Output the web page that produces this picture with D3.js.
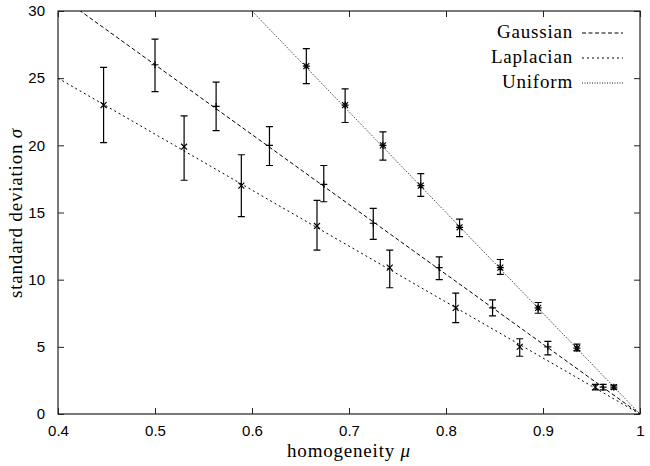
<!DOCTYPE html>
<html>
<head>
<meta charset="utf-8">
<script src="https://cdn.jsdelivr.net/npm/d3@7"></script>
<style>
  body { margin: 0; background: #fff; }
  .tick text { font-family: "Liberation Sans", Arial, sans-serif; font-size: 15px; fill: #000; }
  .lbl { font-family: "Liberation Serif", "Times New Roman", serif; font-size: 19px; letter-spacing: 0.8px; fill: #000; }
</style>
</head>
<body>
<script>
// values
var xTicks = [0.4, 0.5, 0.6, 0.7, 0.8, 0.9, 1];
var yTicks = [0, 5, 10, 15, 20, 25, 30];

var gaussMu    = [0.500, 0.563, 0.618, 0.674, 0.725, 0.793, 0.848, 0.905, 0.962];
var gaussSigma = [26.0, 22.9, 20.0, 17.1, 14.2, 10.9, 7.9, 5.0, 2.0];
var gaussLo    = [24.0, 21.1, 18.5, 15.8, 13.0, 10.0, 7.3, 4.4, 1.8];
var gaussHi    = [27.9, 24.7, 21.4, 18.5, 15.3, 11.7, 8.5, 5.4, 2.2];

var lapMu    = [0.447, 0.530, 0.589, 0.667, 0.742, 0.810, 0.876, 0.954];
var lapSigma = [23.0, 19.9, 17.0, 14.0, 10.9, 7.9, 5.0, 2.0];
var lapLo    = [20.2, 17.4, 14.7, 12.2, 9.4, 6.8, 4.3, 1.8];
var lapHi    = [25.8, 22.2, 19.3, 15.9, 12.2, 9.0, 5.6, 2.2];

var uniMu    = [0.656, 0.696, 0.735, 0.774, 0.814, 0.856, 0.895, 0.935, 0.973];
var uniSigma = [25.9, 23.0, 20.0, 17.0, 13.9, 10.9, 7.9, 4.9, 2.0];
var uniLo    = [24.6, 21.7, 18.9, 16.2, 13.2, 10.4, 7.5, 4.7, 1.85];
var uniHi    = [27.2, 24.2, 21.0, 17.9, 14.5, 11.5, 8.3, 5.2, 2.15];

// fitted lines, two end points each
var gaussFitMu = [0.4, 1], gaussFitSigma = [31.2, 0];
var lapFitMu   = [0.4, 1], lapFitSigma   = [25.0, 0];
var uniFitMu   = [0.6, 1], uniFitSigma   = [30.0, 0];

var seriesNames = ["Gaussian", "Laplacian", "Uniform"];

var width = 650, height = 466;
var margin = {left: 58, right: 10, top: 11, bottom: 52};

var svg = d3.select("body").append("svg")
  .attr("width", width)
  .attr("height", height);

var x = d3.scaleLinear().domain([0.4, 1]).range([margin.left, width - margin.right]);
var y = d3.scaleLinear().domain([0, 30]).range([height - margin.bottom, margin.top]);

svg.append("clipPath").attr("id", "clip")
  .append("rect")
  .attr("x", x(0.4)).attr("y", y(30))
  .attr("width", x(1) - x(0.4)).attr("height", y(0) - y(30));

// axes: ticks point inward, mirrored on top and right
var tl = 6;
svg.append("g").attr("transform", "translate(0," + y(0) + ")")
  .call(d3.axisBottom(x).tickValues(xTicks).tickSizeInner(-tl).tickSizeOuter(0).tickPadding(11)
    .tickFormat(function(d) { return d === 1 ? "1" : d3.format(".1f")(d); }));
svg.append("g").attr("transform", "translate(0," + y(30) + ")")
  .call(d3.axisTop(x).tickValues(xTicks).tickSizeInner(-tl).tickSizeOuter(0).tickFormat(""));
svg.append("g").attr("transform", "translate(" + x(0.4) + ",0)")
  .call(d3.axisLeft(y).tickValues(yTicks).tickSizeInner(-tl).tickSizeOuter(0).tickPadding(13));
svg.append("g").attr("transform", "translate(" + x(1) + ",0)")
  .call(d3.axisRight(y).tickValues(yTicks).tickSizeInner(-tl).tickSizeOuter(0).tickFormat(""));
svg.selectAll(".domain").remove();
svg.selectAll(".tick line").attr("stroke", "#222");

svg.append("rect")
  .attr("x", x(0.4)).attr("y", y(30))
  .attr("width", x(1) - x(0.4)).attr("height", y(0) - y(30))
  .attr("fill", "none").attr("stroke", "#222").attr("stroke-width", 1.2);

// axis labels
var xl = svg.append("text").attr("class", "lbl")
  .attr("x", 349).attr("y", 457).attr("text-anchor", "middle");
xl.append("tspan").text("homogeneity ");
xl.append("tspan").attr("font-style", "italic").text("\u03bc");

var yl = svg.append("text").attr("class", "lbl")
  .attr("transform", "translate(22,213)rotate(-90)").attr("text-anchor", "middle");
yl.append("tspan").text("standard deviation ");
yl.append("tspan").attr("font-style", "italic").text("\u03c3");

// fitted lines
var dashes = ["4,2.5", "2,3", "1,1.5"];
var fits = [[gaussFitMu, gaussFitSigma], [lapFitMu, lapFitSigma], [uniFitMu, uniFitSigma]];
var line = d3.line().x(function(d) { return x(d[0]); }).y(function(d) { return y(d[1]); });
var plot = svg.append("g").attr("clip-path", "url(#clip)");
fits.forEach(function(f, i) {
  plot.append("path")
    .datum(d3.zip(f[0], f[1]))
    .attr("d", line)
    .attr("fill", "none")
    .attr("stroke", "#000")
    .attr("stroke-width", i === 2 ? 0.9 : 1)
    .attr("stroke-dasharray", dashes[i]);
});

// error bars and point markers
var series = [
  {mu: gaussMu, s: gaussSigma, lo: gaussLo, hi: gaussHi, mark: "plus"},
  {mu: lapMu, s: lapSigma, lo: lapLo, hi: lapHi, mark: "cross"},
  {mu: uniMu, s: uniSigma, lo: uniLo, hi: uniHi, mark: "star"}
];
var cap = 3.5, m = 3.5;
series.forEach(function(se) {
  var pts = se.mu.map(function(d, i) { return {mu: d, s: se.s[i], lo: se.lo[i], hi: se.hi[i]}; });
  var g = svg.selectAll(null).data(pts).enter().append("g")
    .attr("stroke", "#000").attr("stroke-width", 1.2).attr("fill", "none");
  g.append("path").attr("d", function(d) {
    var cx = x(d.mu), a = y(d.hi), b = y(d.lo);
    return "M" + cx + "," + a + "V" + b +
      "M" + (cx - cap) + "," + a + "H" + (cx + cap) +
      "M" + (cx - cap) + "," + b + "H" + (cx + cap);
  });
  g.append("path").attr("d", function(d) {
    var cx = x(d.mu), cy = y(d.s), p = "";
    if (se.mark !== "cross") p += "M" + (cx - m) + "," + cy + "H" + (cx + m) + "M" + cx + "," + (cy - m) + "V" + (cy + m);
    if (se.mark !== "plus") {
      var k = m * 0.85;
      p += "M" + (cx - k) + "," + (cy - k) + "L" + (cx + k) + "," + (cy + k) +
           "M" + (cx - k) + "," + (cy + k) + "L" + (cx + k) + "," + (cy - k);
    }
    return p;
  });
});

// legend
var legY = [38, 63, 88];
seriesNames.forEach(function(n, i) {
  svg.append("text").attr("class", "lbl")
    .attr("x", 573).attr("y", legY[i]).attr("text-anchor", "end").text(n);
  svg.append("line")
    .attr("x1", 582).attr("x2", 623)
    .attr("y1", legY[i] - 5).attr("y2", legY[i] - 5)
    .attr("stroke", "#000")
    .attr("stroke-width", i === 2 ? 0.9 : 1)
    .attr("stroke-dasharray", dashes[i]);
});
</script>
</body>
</html>
